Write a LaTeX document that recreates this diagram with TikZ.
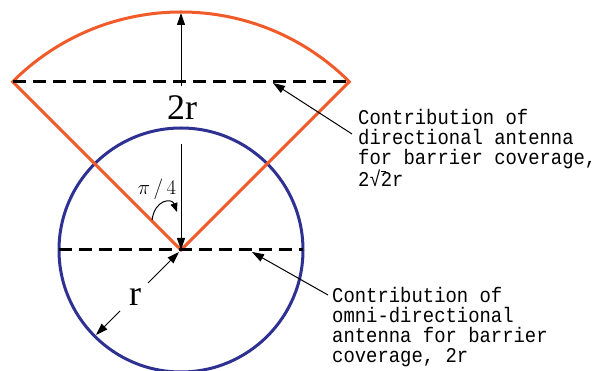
\documentclass[tikz,border=0pt]{standalone}
\usepackage{fontspec}
\setmainfont{Liberation Serif}
\newfontfamily\notefont[FakeStretch=0.9]{Liberation Mono}
\usetikzlibrary{arrows.meta}
\definecolor{sectorred}{HTML}{F15A29}
\definecolor{diskblue}{HTML}{2E3192}
\tikzstyle{sector} = [draw=sectorred, line width=3pt, line join=miter]
\tikzstyle{disk} = [draw=diskblue, line width=3pt]
\tikzstyle{cover} = [line width=3pt, dash pattern=on 13pt off 7pt]
\tikzstyle{dim} = [line width=1pt, -{Triangle[length=12pt,width=8pt]}]
\tikzstyle{note} = [font=\notefont\fontsize{21}{20}\selectfont, align=left, inner sep=0pt, anchor=north west]
\tikzstyle{big} = [font=\fontsize{36}{36}\selectfont, inner sep=0pt]

\begin{document}
\begin{tikzpicture}[x=1pt, y=-1pt]
	\useasboundingbox (0,0) rectangle (598,371);
	\coordinate (apex) at (181,250);
	\coordinate (dleft) at (12.7,81.7);
	\coordinate (dright) at (349.3,81.7);
	\coordinate (oleft) at (59,250);
	\coordinate (oright) at (303,250);
	% omni-directional disk and directional sector
	\draw[disk] (apex) circle[radius=122];
	\draw[sector] (apex) -- (dleft)
		arc[start angle=-135, end angle=-45, radius=238] -- cycle;
	\draw[cover] (dleft) -- (dright);
	\draw[cover] (oleft) -- (oright);
	% dimensions
	\node[big] (tworlab) at (182,108) {2r};
	\coordinate (dbase) at (181,86);
	\coordinate (dtop) at (181,13);
	\coordinate (dstart) at (181,144);
	\draw[dim] (dbase) -- (dtop);
	\draw[dim] (dstart) -- (apex);
	\node[font=\fontsize{20}{20}\selectfont] (anglab) at (157,189) {$\pi\,/\,4$};
	\coordinate (bendstart) at (152,220);
	\coordinate (bendend) at (177,212);
	\draw[line width=1pt, -{Triangle[length=9pt,width=7pt]}] (bendstart)
		.. controls (155,199) and (172,198) .. (bendend);
	\node[big] (rlab) at (135,297) {r};
	\coordinate (rfrom) at (148,283);
	\coordinate (rtip) at (179,252);
	\coordinate (rback) at (120,311);
	\coordinate (rrim) at (96,335);
	\draw[dim] (rfrom) -- (rtip);
	\draw[dim] (rback) -- (rrim);
	% notes
	\node[note] (dirnote) at (358,109) {Contribution of\\directional antenna\\for barrier coverage,\\2√\rlap{\rule[14pt]{5pt}{1pt}}2r};
	\node[note] (omninote) at (332,287) {Contribution of\\omni-directional\\antenna for barrier\\coverage, 2r};
	\coordinate (dfrom) at (352,134);
	\coordinate (dtarget) at (273,83);
	\coordinate (ofrom) at (328,295);
	\coordinate (otarget) at (252,252);
	\draw[dim] (dfrom) -- (dtarget);
	\draw[dim] (ofrom) -- (otarget);
\end{tikzpicture}
\end{document}
